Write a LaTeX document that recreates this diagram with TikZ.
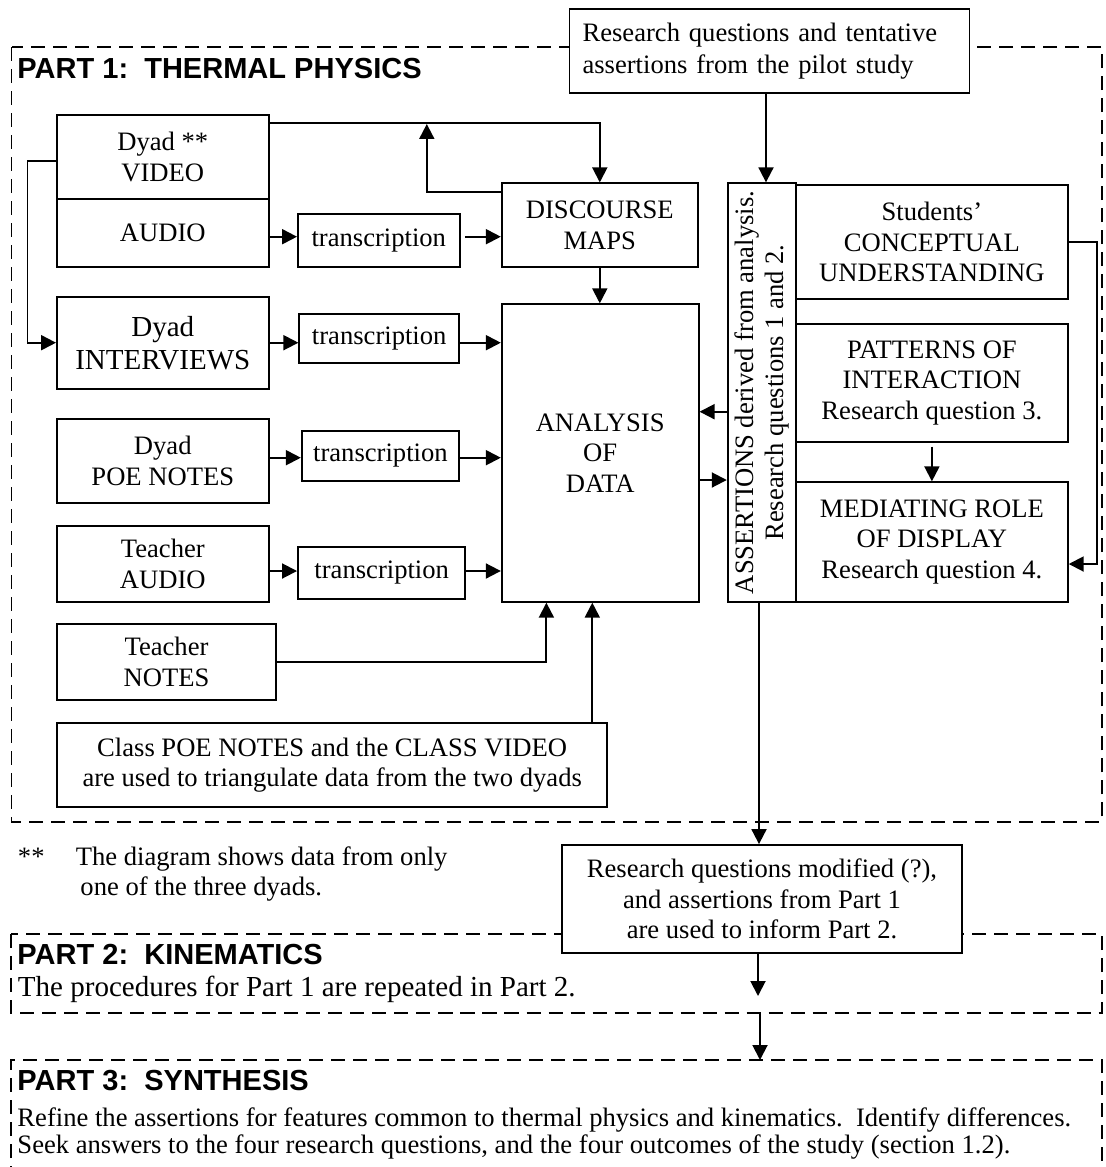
\documentclass[tikz,border=0pt]{standalone}
\usepackage{fontspec}
\setmainfont{Liberation Serif}
\setsansfont{Liberation Sans}
\usetikzlibrary{arrows.meta}
\newdimen\px
\px=0.4135pt
\begin{document}
\begin{tikzpicture}[x=0.4135pt, y=-0.4135pt]
	\tikzstyle{box}=[draw, line width=0.8pt, fill=white, align=center, inner sep=1pt, font=\fontsize{11}{12.6}\selectfont]
	\tikzstyle{arr}=[line width=0.8pt, -{Triangle[length=6.2pt,width=6.2pt]}]
	\tikzstyle{part}=[line width=0.8pt, dash pattern=on 5.8pt off 3.3pt]
	\tikzstyle{head}=[anchor=base west, inner sep=0pt, font=\sffamily\bfseries\fontsize{12}{14}\selectfont]
	\tikzstyle{note}=[anchor=base west, inner sep=0pt, font=\fontsize{11}{13}\selectfont]
	\tikzset{sz/.style 2 args={minimum width=#1*\px, minimum height=#2*\px}}
	\useasboundingbox (0,0) rectangle (1105,1167);
	\draw[part] (11.5,47) rectangle (1102,821.7);
	\draw[part] (11,934) rectangle (1102,1012.7);
	\draw[part] (11,1180) -- (11,1060) -- (1102,1060) -- (1102,1180);
	\path (162.8,157) node[box, sz={211.6}{84}] (video) {Dyad **\\VIDEO}
	      (162.8,233) node[box, sz={211.6}{68}] (audio) {AUDIO}
	      (378.8,240.5) node[box, sz={161.6}{53}] (trans1) {transcription}
	      (599.8,225.2) node[box, sz={196}{83.7}] (discourse) {DISCOURSE\\MAPS}
	      (769.5,51.3) node[box, sz={400}{84}, text width=154.6pt, inner xsep=5.4pt, align=left, font=\fontsize{11}{13}\selectfont] (pilot) {Research questions and tentative\\assertions from the pilot study}
	      (162.8,343.2) node[box, sz={211.6}{91.7}, font=\fontsize{12}{14}\selectfont] (interviews) {Dyad\\INTERVIEWS}
	      (379.2,338.5) node[box, sz={159.7}{48.4}] (trans2) {transcription}
	      (600.2,453) node[box, sz={196.8}{297.4}] (analysis) {ANALYSIS\\OF\\DATA}
	      (162.8,460.9) node[box, sz={211.6}{83.7}] (poe) {Dyad\\POE NOTES}
	      (380.4,455.9) node[box, sz={157.2}{50.3}] (trans3) {transcription}
	      (162.8,563.9) node[box, sz={211.6}{75.7}] (taudio) {Teacher\\AUDIO}
	      (381.7,573) node[box, sz={167.4}{52.6}] (trans4) {transcription}
	      (166.5,662) node[box, sz={219}{76}] (tnotes) {Teacher\\NOTES}
	      (332.2,765) node[box, sz={550.4}{83.4}] (classdata) {Class POE NOTES and the CLASS VIDEO\\are used to triangulate data from the two dyads}
	      (761.9,392.5) node[box, rotate=90, sz={418.4}{68.3}] (assert) {ASSERTIONS derived from analysis.\\Research questions 1 and 2.}
	      (931.9,242) node[box, sz={271.7}{114}] (concept) {Students'\\CONCEPTUAL\\UNDERSTANDING}
	      (931.9,383) node[box, sz={271.7}{117.4}] (patterns) {PATTERNS OF\\INTERACTION\\Research question 3.}
	      (931.9,542) node[box, sz={271.7}{119.4}] (mediating) {MEDIATING ROLE\\OF DISPLAY\\Research question 4.}
	      (762,899.2) node[box, sz={399.3}{108.3}] (modified) {Research questions modified (?),\\and assertions from Part 1\\are used to inform Part 2.};
	\path (17,78) node[head] (title1) {PART 1:\ \ THERMAL PHYSICS}
	      (17,964) node[head] (title2) {PART 2:\ \ KINEMATICS}
	      (17.5,996.7) node[note, font=\fontsize{12}{14}\selectfont] (text2) {The procedures for Part 1 are repeated in Part 2.}
	      (17,1090) node[head] (title3) {PART 3:\ \ SYNTHESIS}
	      (17,1126.7) node[note] (text3a) {Refine the assertions for features common to thermal physics and kinematics.\ \ Identify differences.}
	      (17,1153.3) node[note] (text3b) {Seek answers to the four research questions, and the four outcomes of the study (section 1.2).}
	      (17.5,865) node[note] (stars) {**}
	      (75.4,865) node[note] (foot1) {The diagram shows data from only}
	      (80,895.7) node[note] (foot2) {one of the three dyads.};
	\coordinate (vtop) at (426.8,124);
	\coordinate (p2in) at (758,996);
	\coordinate (p2out) at (760,1012.7);
	\coordinate (p3in) at (760,1060);
	\draw[arr] (video.west |- 0,160.7) -| (27.5,342.7) -- (interviews.west |- 0,342.7);
	\draw[arr] (video.east |- 0,122.7) -| (discourse.north);
	\draw[arr] (discourse.west |- 0,191.7) -| (vtop);
	\draw[arr] (audio.east |- 0,236.7) -- (trans1.west |- 0,236.7);
	\draw[arr, shorten <=1.8pt] (trans1.east |- 0,236.7) -- (discourse.west |- 0,236.7);
	\draw[arr] (interviews.east |- 0,342.7) -- (trans2.west |- 0,342.7);
	\draw[arr] (trans2.east |- 0,342.7) -- (analysis.west |- 0,342.7);
	\draw[arr] (poe.east |- 0,457.7) -- (trans3.west |- 0,457.7);
	\draw[arr] (trans3.east |- 0,457.7) -- (analysis.west |- 0,457.7);
	\draw[arr] (taudio.east |- 0,571) -- (trans4.west |- 0,571);
	\draw[arr] (trans4.east |- 0,571) -- (analysis.west |- 0,571);
	\draw[arr] (tnotes.east |- 0,661.7) -| (analysis.south -| 546.4,0);
	\draw[arr] (classdata.north -| 592.3,0) -- (analysis.south -| 592.3,0);
	\draw[arr] (discourse.south) -- (analysis.north -| discourse.south);
	\draw[arr] (pilot.south -| 766,0) -- (assert.east -| 766,0);
	\draw[arr] (assert.north |- 0,411.7) -- (analysis.east |- 0,411.7);
	\draw[arr] (analysis.east |- 0,480) -- (assert.north |- 0,480);
	\draw[arr] (concept.east) -| (1097.3,564) -- (mediating.east |- 0,564);
	\draw[arr, shorten <=1.6pt] (patterns.south) -- (mediating.north);
	\draw[arr] (assert.west -| 759,0) -- (modified.north -| 759,0);
	\draw[arr] (modified.south -| 758,0) -- (p2in);
	\draw[arr] (p2out) -- (p3in);
\end{tikzpicture}
\end{document}
